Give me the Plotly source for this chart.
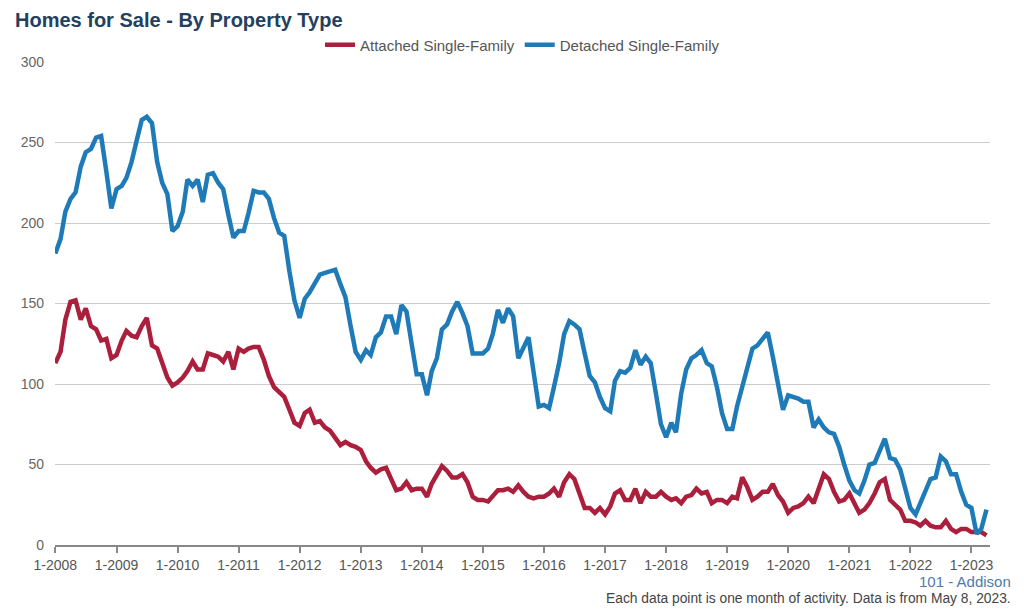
import pandas as pd
import plotly.graph_objects as go

months = pd.date_range("2008-01-01", "2023-04-01", freq="MS")

attached = [
    113, 120, 140, 151, 152, 140, 147, 136, 134, 127, 128, 116,
    118, 127, 133, 130, 129, 136, 141, 124, 122, 113, 104, 99,
    101, 104, 108, 114, 109, 109, 119, 118, 117, 114, 120, 109,
    122, 120, 122, 123, 123, 115, 105, 98, 95, 92, 84, 76,
    74, 82, 84, 76, 77, 73, 71, 66, 62, 64, 62, 61,
    59, 52, 48, 45, 47, 48, 41, 34, 35, 39, 34, 35,
    35, 30, 38, 44, 49, 46, 42, 42, 44, 39, 30, 28,
    28, 27, 30, 34, 34, 35, 33, 37, 33, 30, 29, 30,
    30, 32, 35, 30, 39, 44, 41, 32, 23, 23, 20, 23,
    19, 24, 32, 34, 28, 28, 35, 26, 33, 30, 30, 33,
    30, 28, 29, 26, 30, 31, 35, 32, 33, 26, 28, 28,
    26, 30, 29, 42, 36, 28, 30, 33, 33, 38, 31, 27,
    20, 23, 24, 26, 30, 26, 36, 44, 41, 33, 27, 28,
    32, 26, 20, 22, 26, 32, 39, 41, 28, 25, 22, 15,
    15, 14, 12, 15, 12, 11, 11, 15, 10, 8, 10, 10,
    8, 8, 8, 6,
]

detached = [
    181, 190, 207, 215, 219, 235, 244, 246, 253, 254, 232, 209,
    221, 223, 228, 238, 251, 264, 266, 262, 238, 225, 218, 195,
    198, 207, 227, 223, 227, 213, 230, 231, 225, 221, 205, 191,
    195, 195, 206, 220, 219, 219, 215, 203, 194, 192, 170, 152,
    141, 153, 157, 162, 168, 169, 170, 171, 162, 154, 136, 120,
    115, 121, 118, 129, 132, 142, 142, 131, 149, 145, 125, 106,
    106, 93, 108, 116, 134, 137, 145, 151, 144, 136, 119, 119,
    119, 122, 131, 146, 138, 147, 142, 116, 123, 129, 107, 86,
    87, 85, 98, 113, 131, 139, 137, 134, 119, 105, 101, 92,
    85, 83, 102, 108, 107, 110, 121, 112, 117, 113, 94, 75,
    67, 76, 70, 94, 109, 116, 118, 121, 113, 111, 98, 82,
    72, 72, 86, 99, 110, 122, 124, 128, 132, 117, 100, 84,
    93, 92, 91, 89, 89, 73, 78, 73, 70, 69, 61, 50,
    40, 34, 32, 40, 50, 51, 59, 66, 54, 53, 47, 34,
    23, 19, 26, 32, 41, 42, 55, 52, 44, 44, 33, 25,
    23, 7, 10, 22,
]

tick_years = list(range(2008, 2024))
tick_vals = [pd.Timestamp(f"{y}-01-01") for y in tick_years]
tick_text = [f"1-{y}" for y in tick_years]
y_ticks = [0, 50, 100, 150, 200, 250, 300]

RED = "#ab1f3d"
BLUE = "#1f7bb8"
FONT = "Liberation Sans, Arial, sans-serif"

# page body has an 8px margin, so the figure is sized to fill the rest of the window
W, H = 1016, 603
OFF = 8

fig = go.Figure()
fig.add_trace(go.Scatter(x=months, y=attached, mode="lines", name="Attached Single-Family",
                         line=dict(color=RED, width=4.5)))
fig.add_trace(go.Scatter(x=months, y=detached, mode="lines", name="Detached Single-Family",
                         line=dict(color=BLUE, width=4.5)))

fig.update_layout(
    width=W, height=H,
    margin=dict(l=55 - OFF, r=34, t=62 - OFF, b=66),
    paper_bgcolor="white", plot_bgcolor="white",
    font=dict(family=FONT, color="#555555", size=14),
    title=dict(text="<b>Homes for Sale - By Property Type</b>", x=(15 - OFF) / W, xanchor="left",
               y=1 - (20 - OFF) / H, yanchor="middle", yref="container",
               font=dict(family=FONT, size=20, color="#24405f")),
    legend=dict(orientation="h", x=0.5, xanchor="center", y=1.035, yanchor="middle",
                font=dict(size=15, color="#555555"), itemwidth=30, traceorder="normal"),
    showlegend=True,
    hovermode=False,
)

fig.update_xaxes(
    type="date",
    range=[pd.Timestamp("2007-12-30"), pd.Timestamp("2023-04-22")],
    tickmode="array", tickvals=tick_vals, ticktext=tick_text,
    showgrid=False, showline=True, linecolor="#888888", linewidth=2,
    ticks="outside", ticklen=6, tickcolor="#888888", tickwidth=2,
    tickfont=dict(size=14, color="#555555"), zeroline=False,
)
fig.update_yaxes(
    range=[0, 300], tickmode="array", tickvals=y_ticks,
    showgrid=True, gridcolor="#cccccc", gridwidth=1,
    zeroline=False, showline=False, ticks="",
    tickfont=dict(size=14, color="#666666"), ticklabelstandoff=10,
)

fig.add_annotation(text="101 - Addison", xref="paper", yref="paper",
                   x=(1013 - 55) / 935, y=(545 - 581) / 483, xanchor="right", yanchor="middle",
                   showarrow=False, font=dict(family=FONT, size=15, color="#4f7ab0"))
fig.add_annotation(text="Each data point is one month of activity. Data is from May 8, 2023.",
                   xref="paper", yref="paper",
                   x=(1013 - 55) / 935, y=(545 - 598) / 483, xanchor="right", yanchor="middle",
                   showarrow=False, font=dict(family=FONT, size=13.8, color="#444444"))

fig.write_html("out.html")
